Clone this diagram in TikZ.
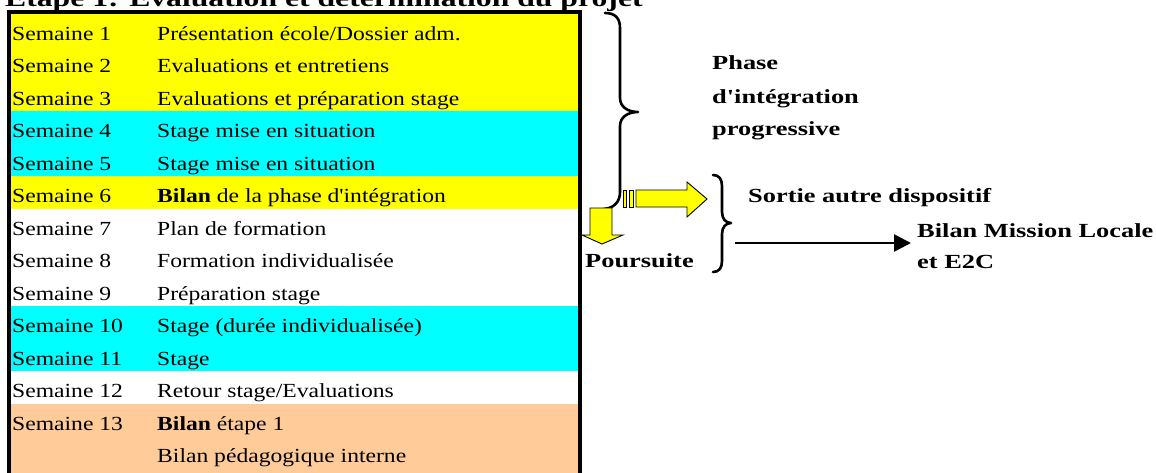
\documentclass[tikz,border=0pt]{standalone}
\usepackage{fontspec}
\setmainfont{Liberation Serif}[FakeStretch=1.18, Ligatures=TeXOff]
\newfontfamily\rightbf{Liberation Serif}[FakeStretch=1.32, Ligatures=TeXOff]
\usetikzlibrary{arrows.meta}
\definecolor{cjaune}{HTML}{FFFF00}
\definecolor{ccyan}{HTML}{00FFFF}
\definecolor{cpeche}{HTML}{FFCC99}
\newcommand\tabfont{\fontsize{20}{24}\selectfont}
\newcommand\sidefont{\rightbf\bfseries\fontsize{20}{24}\selectfont}
\tikzset{
  cell/.style={anchor=base west, inner sep=0pt, font=\tabfont},
  rtext/.style={anchor=base west, inner sep=0pt, font=\sidefont},
  brace/.style={line width=2.6pt, line cap=round, line join=round},
  yarrow/.style={fill=cjaune, draw=black, line width=0.9pt, line join=miter}
}
\begin{document}
\begin{tikzpicture}[x=1pt,y=-1pt]
\useasboundingbox (0,0) rectangle (1156,472);
\fill[white] (0,0) rectangle (1156,472);
% title (cut at the top, as in the reference)
\node[anchor=base west, inner sep=0pt, font=\rightbf\bfseries\fontsize{24}{28}\selectfont] (titre) at (5,6) {Etape 1: Evaluation et détermination du projet};
% row fills
\def\rt#1{13.5+(#1-1)*32.5}
\fill[cjaune] (9,{\rt{1}}) rectangle (580,{\rt{4}});
\fill[ccyan] (9,{\rt{4}}) rectangle (580,{\rt{6}});
\fill[cjaune] (9,{\rt{6}}) rectangle (580,{\rt{7}});
\fill[ccyan] (9,{\rt{10}}) rectangle (580,{\rt{12}});
\fill[cpeche] (9,{\rt{13}}) rectangle (580,490);
% table border
\draw[line width=4pt] (9,12) rectangle (580,490);
% texts
\foreach \i/\txt in {1/{Présentation école/Dossier adm.},
                     2/{Evaluations et entretiens},
                     3/{Evaluations et préparation stage},
                     4/{Stage mise en situation},
                     5/{Stage mise en situation},
                     6/{\textbf{Bilan} de la phase d'intégration},
                     7/{Plan de formation},
                     8/{Formation individualisée},
                     9/{Préparation stage},
                     10/{Stage (durée individualisée)},
                     11/{Stage},
                     12/{Retour stage/Evaluations},
                     13/{\textbf{Bilan} étape 1},
                     14/{Bilan pédagogique interne}}{
  \node[cell] (d\i) at (157,{40+(\i-1)*32.5}) {\txt};
}
\foreach \i in {1,...,13}{
  \node[cell] (s\i) at (12,{40+(\i-1)*32.5}) {Semaine \i};
}
% big brace
\draw[brace] (605,13) .. controls (615,13) and (620,18) .. (620,28) -- (620,98)
  .. controls (620,107) and (628,112) .. (638,112)
  .. controls (628,112) and (620,117) .. (620,126) -- (620,192)
  .. controls (620,202) and (614,208) .. (604,209);
% right side texts
\node[rtext] (ph1) at (712,69) {Phase};
\node[rtext] (ph2) at (712,103) {d'intégration};
\node[rtext] (ph3) at (712,135) {progressive};
% yellow arrows
\draw[yarrow] (590,208) -- (612,208) -- (612,235) -- (623,235) -- (602,244) -- (582,235) -- (590,235) -- cycle;
\draw[yarrow] (623,190) rectangle (626.5,207);
\draw[yarrow] (629.5,190) rectangle (633.5,207);
\draw[yarrow] (636,190) -- (687,190) -- (687,182) -- (707,199) -- (687,217) -- (687,207) -- (636,207) -- cycle;
\node[rtext] (pours) at (585,267) {Poursuite};
% small brace
\draw[brace] (713,175) .. controls (719,175) and (722,179) .. (722,186) -- (722,212)
  .. controls (722,219) and (726,223) .. (731,223)
  .. controls (726,223) and (722,227) .. (722,234) -- (722,261)
  .. controls (722,268) and (719,272) .. (713,272);
\node[rtext] (sortie) at (748,202) {Sortie autre dispositif};
\node[rtext] (bml) at (917,237) {Bilan Mission Locale};
\node[rtext] (e2c) at (917,268) {et E2C};
\coordinate (fdebut) at (735,243);
\coordinate (ffin) at (bml.west |- fdebut);
\draw[line width=2.5pt, -{Triangle[length=17pt,width=17pt]}, shorten >=6pt] (fdebut) -- (ffin);
\end{tikzpicture}
\end{document}
